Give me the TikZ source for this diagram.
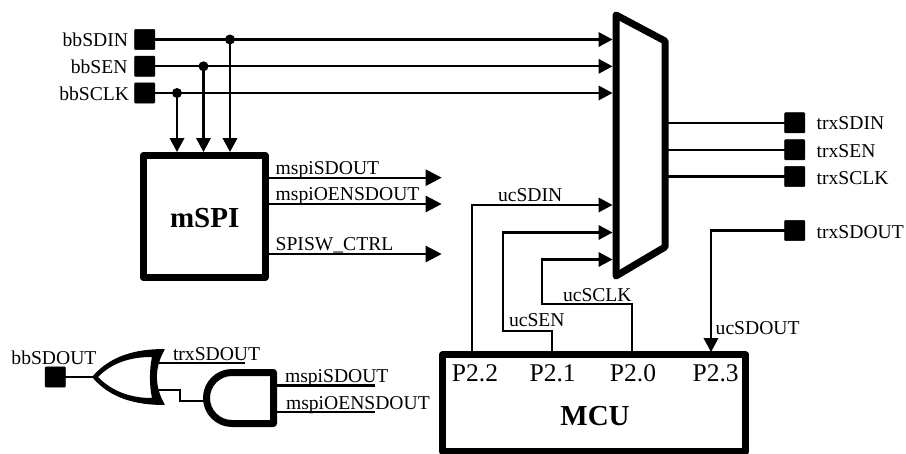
\documentclass[tikz,border=0pt]{standalone}
\usepackage{fontspec}
\setmainfont{Liberation Serif}
\usetikzlibrary{arrows.meta,calc}
\tikzset{
  pad/.style={draw=black,fill=black,rounded corners=0.8pt,line width=0.5pt,minimum width=20.2pt,minimum height=20.2pt,inner sep=0pt,outer sep=0pt},
  wire/.style={line width=2.1pt},
  sig/.style={wire,-{Triangle[length=14pt,width=14.5pt]}},
  bigsig/.style={line width=2.4pt,-{Triangle[length=16pt,width=16pt]}},
  heavy/.style={line width=7pt,line join=round,draw=black},
  gate/.style={line width=7pt,line join=round,draw=black},
  lbl/.style={font=\fontsize{19.6}{22}\selectfont,inner sep=0pt,outer sep=0pt},
  portlbl/.style={font=\fontsize{25.5}{28}\selectfont,inner sep=0pt,outer sep=0pt},
  title/.style={font=\fontsize{29}{32}\selectfont\bfseries,inner sep=0pt},
  dot/.style={circle,fill=black,minimum size=10pt,inner sep=0pt,outer sep=0pt},
  block/.style={heavy,rectangle,inner sep=0pt,outer sep=0pt}
}
\begin{document}
\begin{tikzpicture}[x=1pt,y=-1pt]
\useasboundingbox (0,0) rectangle (906,453);
\clip (0,0) rectangle (906,453);
% pads
\node[pad] (pSDIN) at (144.7,39.5) {};
\node[pad] (pSEN)  at (144.7,66.3) {};
\node[pad] (pSCLK) at (144.7,93) {};
\node[pad] (tSDIN) at (794.7,122.8) {};
\node[pad] (tSEN)  at (794.7,149.8) {};
\node[pad] (tSCLK) at (794.7,176.5) {};
\node[pad] (tSDOUT) at (794.7,230.5) {};
\node[pad] (pSDOUT) at (55.3,377) {};
% pad labels
\node[lbl,anchor=base east] at (128,46.5) {bbSDIN};
\node[lbl,anchor=base east] at (127.5,73.3) {bbSEN};
\node[lbl,anchor=base east] at (129,100.3) {bbSCLK};
\node[lbl,anchor=base west] at (816.7,129) {trxSDIN};
\node[lbl,anchor=base west] at (816.7,157) {trxSEN};
\node[lbl,anchor=base west] at (816.7,184) {trxSCLK};
\node[lbl,anchor=base west] at (816.7,238) {trxSDOUT};
\node[lbl,anchor=base west] at (11.5,364) {bbSDOUT};
% blocks
\node[block,draw,minimum width=122pt,minimum height=122pt] (spi) at (204,216.5) {};
\node[title] at (204.7,218) {mSPI};
\node[block,draw,minimum width=303.5pt,minimum height=96.5pt] (mcu) at (594.2,403.2) {};
\node[title] at (595,416) {MCU};
\node[portlbl,anchor=base] (p22) at (475,381.7) {P2.2};
\node[portlbl,anchor=base] (p21) at (552.7,381.7) {P2.1};
\node[portlbl,anchor=base] (p20) at (633,381.7) {P2.0};
\node[portlbl,anchor=base] (p23) at (715.7,381.7) {P2.3};
% mux
\coordinate (mTL) at (616,15);
\coordinate (mTR) at (665,41);
\coordinate (mBR) at (665,247);
\coordinate (mBL) at (616,276);
\draw[heavy] (mTL) -- (mTR) -- (mBR) -- (mBL) -- cycle;
% inputs
\coordinate (i1) at (612.5,39.5);
\coordinate (i2) at (612.5,66.3);
\coordinate (i3) at (612.5,93);
\coordinate (i4) at (612.5,205);
\coordinate (i5) at (612.5,232.5);
\coordinate (i6) at (612.5,259.5);
\draw[sig] (pSDIN.east) -- (i1);
\draw[sig] (pSEN.east) -- (i2);
\draw[sig] (pSCLK.east) -- (i3);
\node[dot] (d1) at (230,39.5) {};
\node[dot] (d2) at (203.5,66.3) {};
\node[dot] (d3) at (177,93) {};
\draw[sig] (d1.center) -- (230,152);
\draw[sig] (d2.center) -- (203.5,152);
\draw[sig] (d3.center) -- (177,152);
% mux outputs
\draw[wire] (668,122.8) -- (tSDIN.west);
\draw[wire] (668,149.8) -- (tSEN.west);
\draw[wire] (668,176.5) -- (tSCLK.west);
% mSPI outputs
\coordinate (o1) at (441.7,177.7);
\coordinate (o2) at (441.7,204);
\coordinate (o3) at (441.7,254);
\draw[bigsig] (spi.east |- o1) -- (o1);
\draw[bigsig] (spi.east |- o2) -- (o2);
\draw[bigsig] (spi.east |- o3) -- (o3);
\node[lbl,anchor=base west] at (275.7,174) {mspiSDOUT};
\node[lbl,anchor=base west] at (275.7,200) {mspiOENSDOUT};
\node[lbl,anchor=base west] at (275.7,250) {SPISW\_CTRL};
% MCU wires
\draw[sig] (472,352) -- (472,205) -- (i4);
\draw[sig] (552,352) -- (552,331) -- (503,331) -- (503,232.5) -- (i5);
\draw[sig] (632,352) -- (632,304) -- (542,304) -- (542,259.5) -- (i6);
\draw[sig] (tSDOUT.west) -- (711,230.5) -- (711,352);
\node[lbl,anchor=base west] at (498,201.7) {ucSDIN};
\node[lbl,anchor=base west] at (509,326.7) {ucSEN};
\node[lbl,anchor=base west] at (563,301.7) {ucSCLK};
\node[lbl,anchor=base west] at (715.7,334) {ucSDOUT};
% OR gate
\coordinate (orTip) at (93,377);
\fill[black,even odd rule,rounded corners=0.6pt]
  (92,377) .. controls (110,356) and (135,349) .. (165,349)
  .. controls (154.3,368) and (154.3,386) .. (165,405)
  .. controls (135,405) and (110,398) .. (92,377) -- cycle
  (98,377) .. controls (112,363) and (130,357) .. (152,357)
  .. controls (149.3,370) and (149.3,385) .. (152,398)
  .. controls (130,398) and (112,391) .. (98,377) -- cycle;
\draw[wire] (pSDOUT.east) -- (orTip);
% AND gate
\coordinate (aTR) at (273.5,372.5);
\coordinate (aBR) at (273.5,423.5);
\draw[gate] (aTR) -- (232,372.5) arc[start angle=270,end angle=90,radius=25.5] -- (aBR) -- cycle;
\draw[wire] (159,363) -- (245,363);
\draw[wire] (158,390) -- (180,390) -- (180,401) -- (205,401);
\draw[wire] (276,385.5) -- (375,385.5);
\draw[wire] (276,412) -- (375,412);
\node[lbl,anchor=base west] at (173,360.7) {trxSDOUT};
\node[lbl,anchor=base west] at (285,382.7) {mspiSDOUT};
\node[lbl,anchor=base west] at (286,409) {mspiOENSDOUT};
\end{tikzpicture}
\end{document}
